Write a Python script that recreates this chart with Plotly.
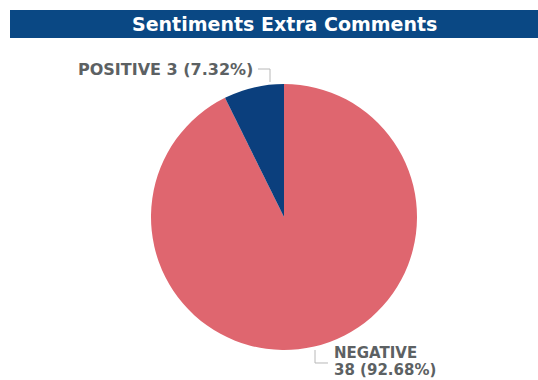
import plotly.graph_objects as go

labels = ["NEGATIVE", "POSITIVE"]
values = [38, 3]
colors = ["#df666f", "#0b3f7d"]
title_text = "Sentiments Extra Comments"

W, H = 538, 380
total = sum(values)
pct = [v / total * 100 for v in values]

def px(x):
    return x / W

def py(y):
    return 1 - y / H

fig = go.Figure(go.Pie(
    labels=labels, values=values, sort=False, direction="clockwise",
    rotation=0, marker=dict(colors=colors, line=dict(width=0)),
    textinfo="none", hoverinfo="label+value+percent", showlegend=False,
    domain=dict(x=[px(151), px(417)], y=[py(350), py(84)]),
))

label_font = dict(family="DejaVu Sans", size=16, color="#5c6163")
label_font2 = dict(family="DejaVu Sans", size=15, color="#5c6163")
annotations = [
    dict(text="<b>%s</b>" % title_text, x=px(284), y=py(24), xref="paper", yref="paper",
         showarrow=False, font=dict(family="DejaVu Sans", size=19, color="white"),
         xanchor="center", yanchor="middle"),
    dict(text="<b>%s %d (%.2f%%)</b>" % (labels[1], values[1], pct[1]), x=px(255), y=py(69),
         xref="paper", yref="paper", showarrow=False, font=label_font,
         xanchor="right", yanchor="middle"),
    dict(text="<b>%s</b>" % labels[0], x=px(332), y=py(353),
         xref="paper", yref="paper", showarrow=False, font=label_font2,
         xanchor="left", yanchor="middle", align="left"),
    dict(text="<b>%d (%.2f%%)</b>" % (values[0], pct[0]), x=px(332), y=py(370),
         xref="paper", yref="paper", showarrow=False, font=label_font2,
         xanchor="left", yanchor="middle", align="left"),
]

shapes = [
    dict(type="rect", xref="paper", yref="paper", x0=px(10), x1=1, y0=py(38), y1=py(10),
         fillcolor="#0a4884", line=dict(width=0), layer="below"),
    dict(type="path", xref="paper", yref="paper",
         path="M %f,%f L %f,%f L %f,%f" % (px(258), py(69), px(270), py(69), px(270), py(82)),
         line=dict(color="#b8b8b8", width=1)),
    dict(type="path", xref="paper", yref="paper",
         path="M %f,%f L %f,%f L %f,%f" % (px(315), py(350), px(315), py(363), px(328), py(363)),
         line=dict(color="#b8b8b8", width=1)),
]

fig.update_layout(width=W, height=H, margin=dict(l=0, r=0, t=0, b=0),
                  paper_bgcolor="white", plot_bgcolor="white",
                  annotations=annotations, shapes=shapes)

fig.write_html("out.html")
